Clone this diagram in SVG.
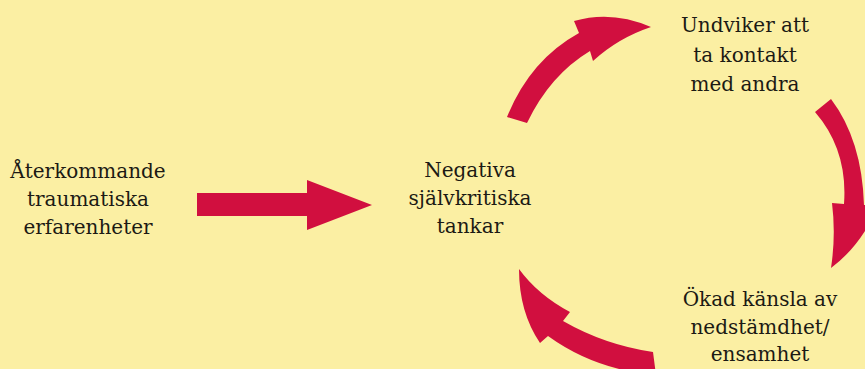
<svg xmlns="http://www.w3.org/2000/svg" width="865" height="369" viewBox="0 0 865 369">
<style>
.t{font-family:"DejaVu Serif","Liberation Serif",serif;font-size:20px;fill:#1c1a14;text-anchor:middle}
.a{fill:#D10F3F}
</style>
<rect x="0" y="0" width="865" height="369" fill="#FBEFA3"/>
<g id="node-left">
<text class="t" x="88" y="178">Återkommande</text>
<text class="t" x="88" y="206">traumatiska</text>
<text class="t" x="88" y="234">erfarenheter</text>
</g>
<g id="node-center">
<text class="t" x="470" y="177">Negativa</text>
<text class="t" x="470" y="205">självkritiska</text>
<text class="t" x="470" y="233">tankar</text>
</g>
<g id="node-top">
<text class="t" x="745" y="32">Undviker att</text>
<text class="t" x="745" y="62">ta kontakt</text>
<text class="t" x="745" y="91">med andra</text>
</g>
<g id="node-bottom">
<text class="t" x="760" y="306">Ökad känsla av</text>
<text class="t" x="760" y="333.5">nedstämdhet/</text>
<text class="t" x="760" y="361">ensamhet</text>
</g>
<g id="connectors">
<path class="a" d="M197,193 L307,193 L307,180 L372,205 L307,230 L307,216 L197,216 Z"/>
<path class="a" d="M507,117 Q530,60 579,33 L574,21 Q612,10 651,27 Q618,38 593,61 L590,51 Q550,75 527,123 Z"/>
<path class="a" d="M815,112 L831,99 Q862,140 864,205 L880,202 Q862,245 831,268 Q836,235 832,203 L844,204 Q848,150 815,112 Z"/>
<path class="a" d="M519,269 Q519,312 540,343 L548,336 Q595,370 656,375 L653,352 Q605,345 563,321 L570,312 Q538,295 519,269 Z"/>
</g>
</svg>
